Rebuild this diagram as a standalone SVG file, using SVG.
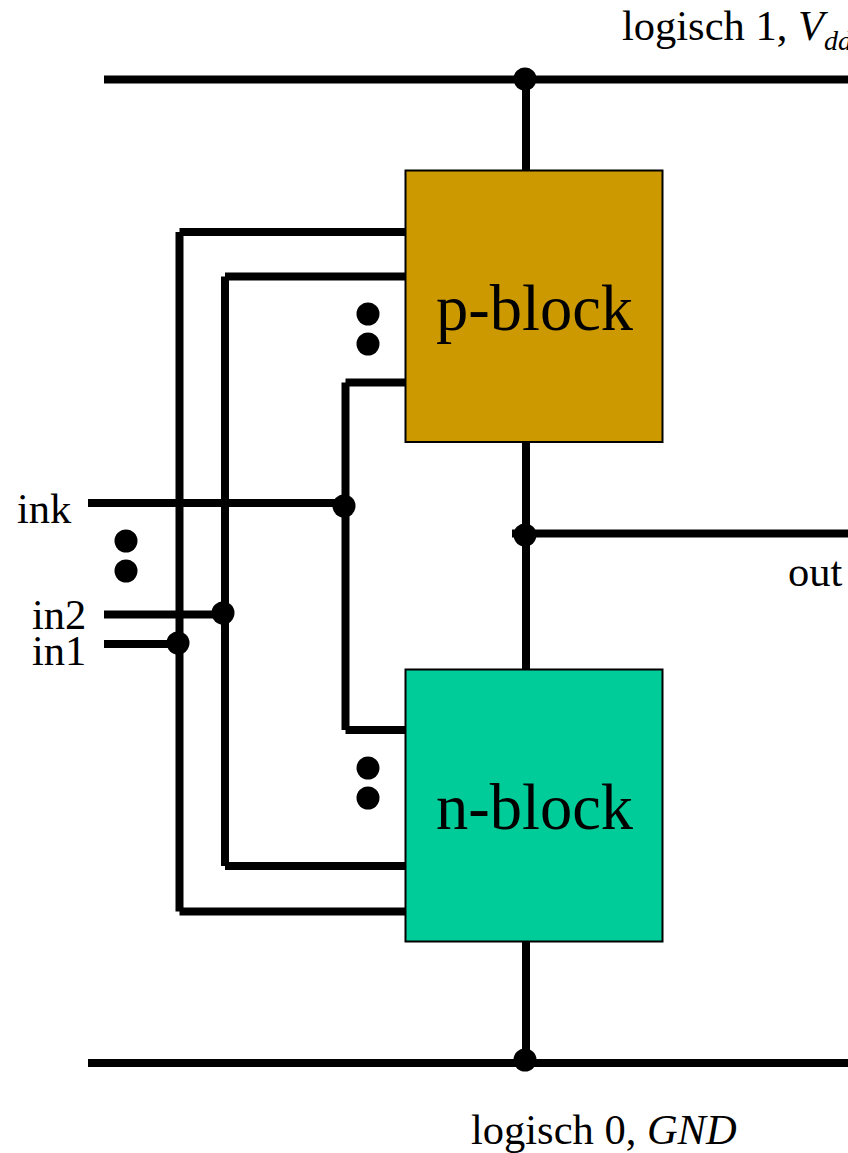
<svg xmlns="http://www.w3.org/2000/svg" width="848" height="1153" viewBox="0 0 848 1153">
<style>
.w{fill:none;stroke:#000;stroke-width:8;stroke-linecap:butt}
.b{stroke:#000;stroke-width:2}
.d{fill:#000}
text{font-family:"Liberation Serif","Times New Roman",serif;fill:#000}
.l{font-size:42.500px}
.t{font-size:64.500px}
</style>
<rect width="848" height="1153" fill="#fff"/>
<g id="connectors">
<path class="w" d="M104 79.500H848"/>
<path class="w" d="M88 1063H848"/>
<path class="w" d="M526 79V170"/>
<path class="w" d="M526 442V669"/>
<path class="w" d="M526 941V1062"/>
<path class="w" d="M512 533.500H848"/>
<path class="w" d="M405 232H179.500M179.500 232V911.500M179.500 911.500H405"/>
<path class="w" d="M405 276.500H225M225 276.500V866M225 866H405"/>
<path class="w" d="M405 382.500H345.500M345.500 382.500V730M345.500 730H405"/>
<path class="w" d="M88 503H345"/>
<path class="w" d="M104 614.500H225"/>
<path class="w" d="M104 644H179"/>
<circle class="d" cx="525" cy="79" r="11.500"/>
<circle class="d" cx="525" cy="535" r="11.500"/>
<circle class="d" cx="525" cy="1060" r="11.500"/>
<circle class="d" cx="344" cy="506" r="11.500"/>
<circle class="d" cx="223" cy="613" r="11.500"/>
<circle class="d" cx="178" cy="643" r="11.500"/>
</g>
<g id="p-block">
<rect class="b" x="405.500" y="170.500" width="257" height="271.500" fill="#cc9900"/>
<text class="t" x="534.500" y="330" text-anchor="middle">p-block</text>
</g>
<g id="n-block">
<rect class="b" x="405.500" y="669.500" width="257" height="272" fill="#00cc99"/>
<text class="t" x="534.500" y="829" text-anchor="middle">n-block</text>
</g>
<g id="ellipsis-p"><circle class="d" cx="368" cy="314" r="11.500"/><circle class="d" cx="368" cy="344" r="11.500"/></g>
<g id="ellipsis-n"><circle class="d" cx="368" cy="768" r="11.500"/><circle class="d" cx="368" cy="798" r="11.500"/></g>
<g id="ellipsis-in"><circle class="d" cx="126" cy="541" r="11.500"/><circle class="d" cx="126" cy="571" r="11.500"/></g>
<g id="labels">
<text class="l" x="622" y="40">logisch 1, <tspan font-style="italic">V</tspan><tspan font-style="italic" font-size="28" dy="10">dd</tspan></text>
<text class="l" x="17" y="523">ink</text>
<text class="l" x="32" y="629">in2</text>
<text class="l" x="32" y="665">in1</text>
<text class="l" x="788" y="586">out</text>
<text class="l" x="471" y="1144">logisch 0, <tspan font-style="italic">GND</tspan></text>
</g>
</svg>
